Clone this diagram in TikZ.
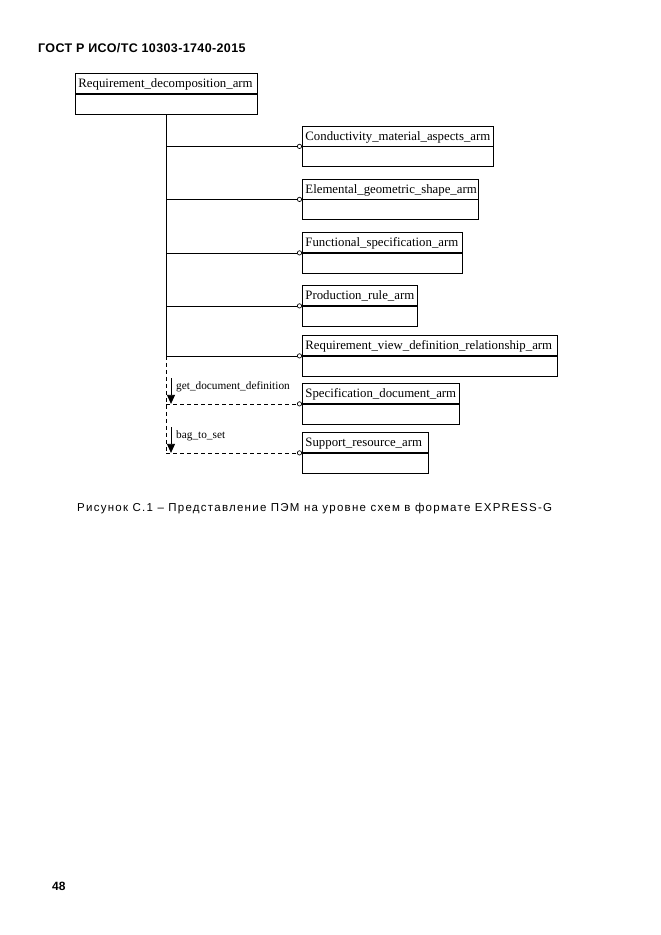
\documentclass[tikz,border=0pt]{standalone}
\usepackage{fontspec}
\setmainfont{Liberation Serif}
\newfontfamily\gostsans{Liberation Sans}
\newfontfamily\gostcap{Liberation Sans}[LetterSpace=11]
\newfontfamily\gosthead{Liberation Sans}[LetterSpace=3]
\usetikzlibrary{arrows.meta,positioning}

\tikzset{
  enttitle/.style={draw,line width=0.9pt,anchor=north west,minimum height=20pt,
    text width=#1,inner xsep=3pt,inner ysep=0pt,text depth=0pt,align=left,
    font=\fontsize{12.8}{13}\selectfont},
  entbody/.style={draw,line width=0.9pt,minimum height=20pt,inner sep=0pt},
  relline/.style={line width=0.8pt,-{Circle[open,length=5pt,line width=0.7pt]}},
  reldash/.style={relline,dash pattern=on 4pt off 3pt},
  revarrow/.style={line width=0.8pt,-{Triangle[length=9pt,width=8pt]}},
  revlabel/.style={anchor=base west,inner sep=0pt,font=\fontsize{11.3}{12}\selectfont}
}

\begin{document}
\begin{tikzpicture}[x=1pt,y=-1pt]
\useasboundingbox (0,0) rectangle (661,935);
% page header and footer
\node[anchor=base west,inner sep=0pt,font=\gosthead\bfseries\fontsize{12.5}{13}\selectfont] (hdr) at (38,52) {ГОСТ Р ИСО/ТС 10303-1740-2015};
\node[anchor=base west,inner sep=0pt,font=\gostsans\bfseries\fontsize{12}{13}\selectfont] (pgno) at (52,890) {48};
% root entity
\node[enttitle=176pt] (root) at (75,73) {Requirement\_decomposition\_arm};
\node[entbody,minimum width=182pt,below=0pt of root] (root-b) {};
% referenced entities
\node[enttitle=185pt] (cond) at (302,125.5) {Conductivity\_material\_aspects\_arm};
\node[entbody,minimum width=191pt,below=0pt of cond] (cond-b) {};
\node[enttitle=170pt] (elem) at (302,178.5) {Elemental\_geometric\_shape\_arm};
\node[entbody,minimum width=176pt,below=0pt of elem] (elem-b) {};
\node[enttitle=154pt] (func) at (302,232) {Functional\_specification\_arm};
\node[entbody,minimum width=160pt,below=0pt of func] (func-b) {};
\node[enttitle=109pt] (prod) at (302,285) {Production\_rule\_arm};
\node[entbody,minimum width=115pt,below=0pt of prod] (prod-b) {};
\node[enttitle=249pt] (rvdr) at (302,335) {Requirement\_view\_definition\_relationship\_arm};
\node[entbody,minimum width=255pt,below=0pt of rvdr] (rvdr-b) {};
\node[enttitle=151pt] (spec) at (302,383) {Specification\_document\_arm};
\node[entbody,minimum width=157pt,below=0pt of spec] (spec-b) {};
\node[enttitle=120pt] (supp) at (302,432) {Support\_resource\_arm};
\node[entbody,minimum width=126pt,below=0pt of supp] (supp-b) {};
% trunk
\coordinate (t1) at (root-b.south |- rvdr.south west);
\coordinate (t2) at (root-b.south |- supp.south west);
\draw[line width=0.8pt] (root-b.south) -- (t1);
\draw[line width=0.8pt,dash pattern=on 4pt off 3pt] (t1) -- (t2);
% attributes
\foreach \e in {cond,elem,func,prod,rvdr}
  \draw[relline] (root-b.south |- \e.south west) -- (\e.south west);
\foreach \e in {spec,supp}
  \draw[reldash] (root-b.south |- \e.south west) -- (\e.south west);
% derived / inverse markers
\coordinate (a1) at (171,378);
\coordinate (a2) at (171,427);
\draw[revarrow] (a1) -- (a1 |- spec.south west);
\draw[revarrow] (a2) -- (a2 |- supp.south west);
\node[revlabel] (l1) at (176,389) {get\_document\_definition};
\node[revlabel] (l2) at (176,438) {bag\_to\_set};
% caption
\node[anchor=base west,inner sep=0pt,font=\gostcap\fontsize{11.5}{12}\selectfont] (cap) at (77,511) {Рисунок С.1 – Представление ПЭМ на уровне схем в формате EXPRESS-G};
\end{tikzpicture}
\end{document}
